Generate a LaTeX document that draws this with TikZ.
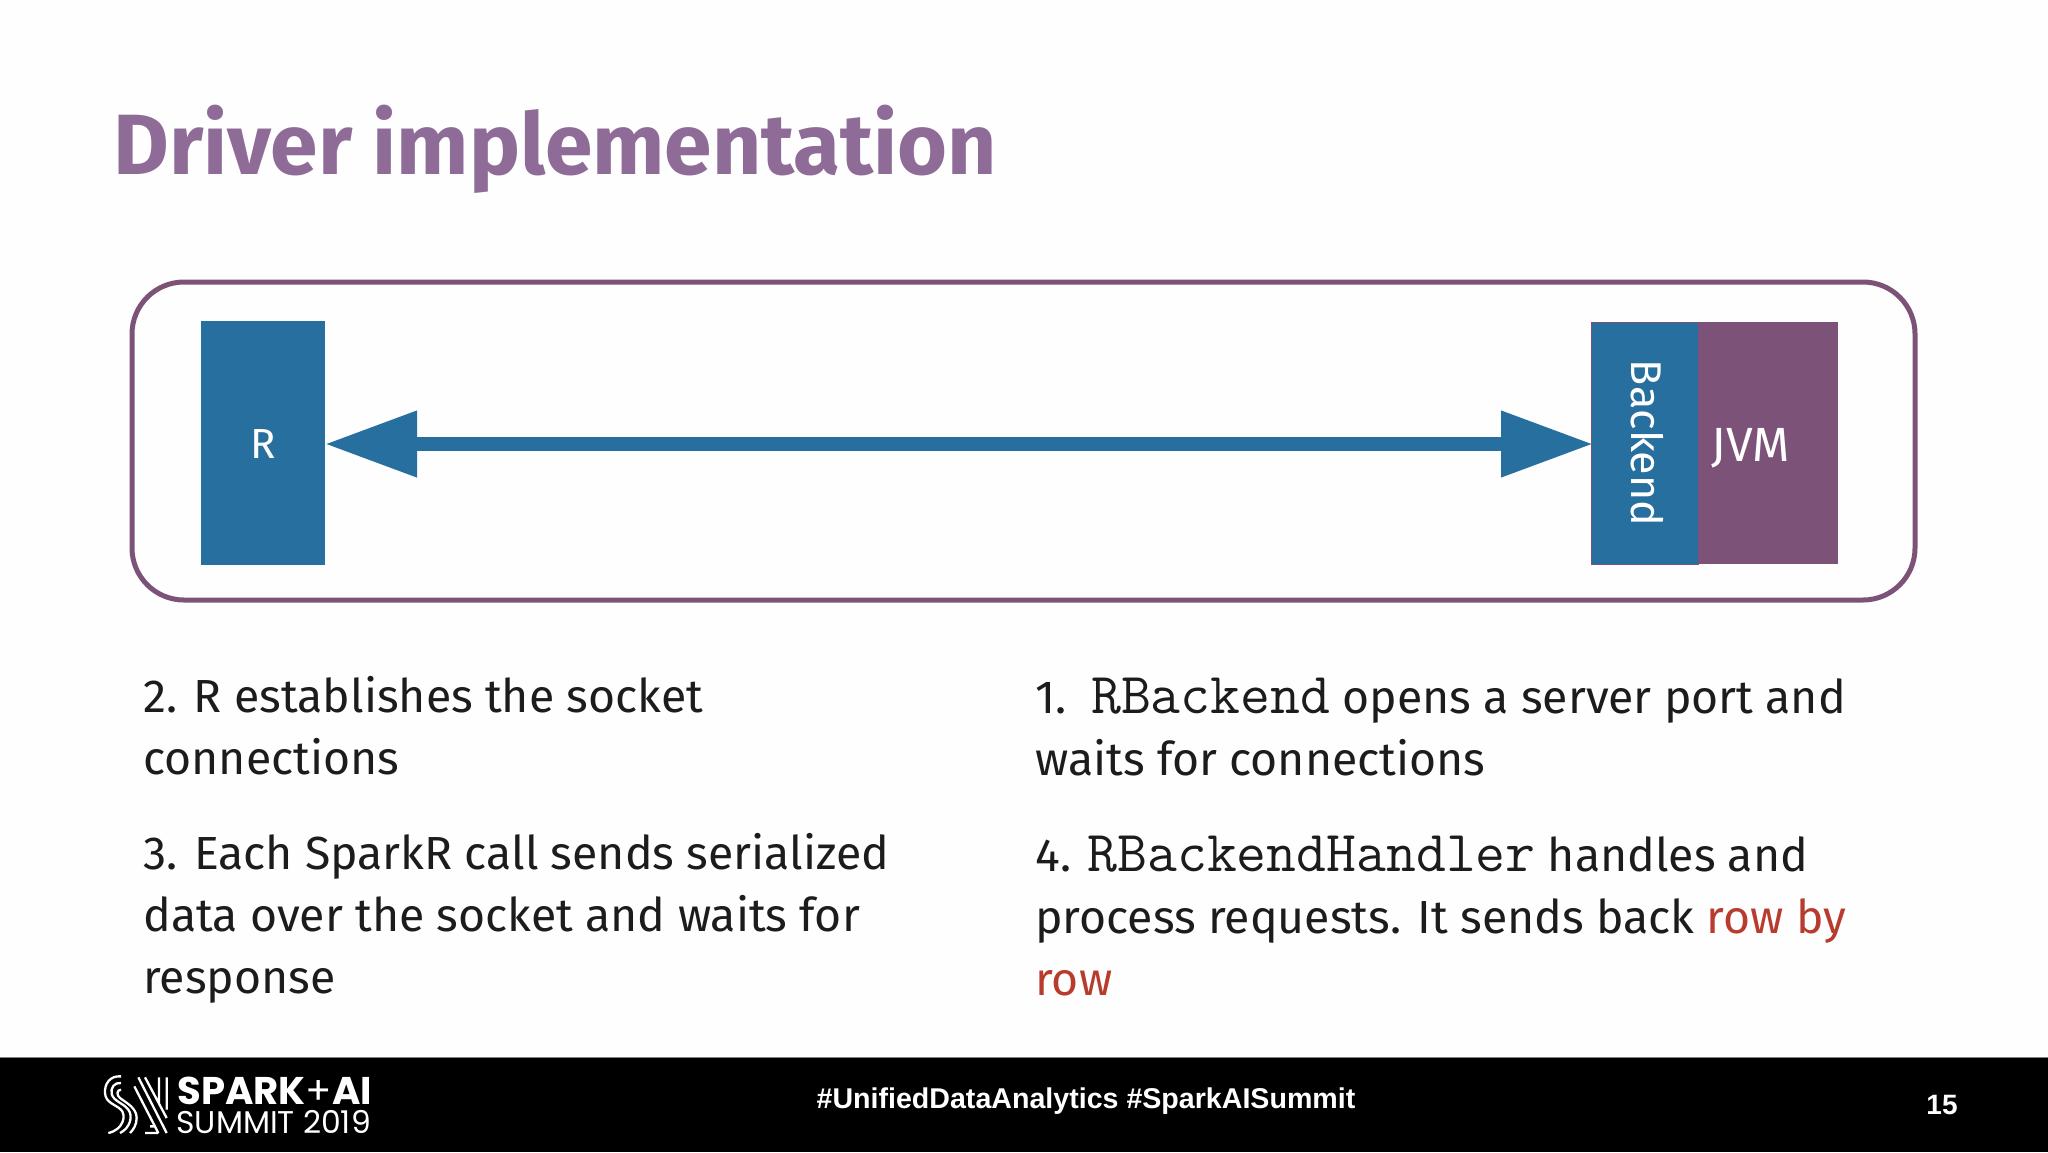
\documentclass[tikz,border=0pt]{standalone}
\usepackage{fontspec}
\setmainfont{Fira Sans}
\newfontfamily\logofont{Poppins}
\newfontfamily\barfont{Liberation Sans}
\usetikzlibrary{arrows.meta,positioning,calc}
\definecolor{slideblue}{HTML}{266F9F}
\definecolor{slidepurple}{HTML}{7C5279}
\definecolor{titlepurple}{HTML}{8F6B98}
\definecolor{slidered}{HTML}{B83C2E}
\definecolor{slidetext}{HTML}{1C1C1C}
\newcommand{\codeword}[1]{{\fontsize{29}{31}\selectfont\ttfamily #1}}
\tikzset{
  x=0.5pt, y=-0.5pt,
  blockbox/.style={rectangle, inner sep=0pt, outer sep=0pt, text=white, draw=slidepurple, line width=0.4pt},
  bodytext/.style={anchor=base west, inner sep=0pt, text=slidetext, font=\fontsize{23.2}{31}\selectfont, align=left},
  logoline/.style={draw=white, line width=1.15pt},
}
\begin{document}
\begin{tikzpicture}
    \useasboundingbox (0,0) rectangle (2048,1152);
    \fill[white!99.5!black] (0,0) rectangle (2048,1152);
    % title
    \node[anchor=base west, inner sep=0pt, text=titlepurple, font=\fontsize{42.8}{46}\selectfont\bfseries] (title) at (113,174) {Driver implementation};
    % frame
    \draw[slidepurple, line width=2.5pt, rounded corners=26pt] (132,282) rectangle (1915,600);
    % blocks
    \node[blockbox, fill=slideblue, draw=none, minimum width=62pt, minimum height=122pt, font=\fontsize{21}{25}\selectfont] (r) at (263,443) {\raisebox{-7.5pt}[0pt][0pt]{R}};
    \node[blockbox, fill=slideblue, minimum width=53.5pt, minimum height=121pt, font=\fontsize{21.5}{25}\selectfont] (backend) at (1644.5,443) {\hspace*{2.5pt}\rotatebox{-90}{Backend}};
    \node[blockbox, fill=slidepurple, draw=none, minimum width=70pt, minimum height=121pt, right=0pt of backend, font=\fontsize{24}{28}\selectfont] (jvm) {\hspace*{-17pt}\raisebox{-9.3pt}[0pt][0pt]{JVM}};
    \draw[slideblue, line width=7pt, shorten >=-1pt, {Triangle[length=46pt,width=31.5pt]}-{Triangle[length=46pt,width=31.5pt]}] ([yshift=-0.5pt]r.east) -- ([yshift=-0.5pt]backend.west);
    % text
    \node[bodytext] (left a) at (143,774) {2. R establishes the socket\\connections};
    \node[bodytext] (left b) at (143,993.5) {3. Each SparkR call sends serialized\\data over the socket and waits for\\response};
    \node[bodytext] (right a) at (1035,775) {1.~~\codeword{RBackend} opens a server port and\\waits for connections};
    \node[bodytext] (right b) at (1035,995) {4. \codeword{RBackendHandler} handles and\\process requests. It sends back \textcolor{slidered}{row by}\\\textcolor{slidered}{row}};
    % footer
    \fill[black] (0,1058) rectangle (2048,1152);
    \draw[gray, line width=0.5pt] (0,1057.5) -- (2048,1057.5);
    \node[anchor=base, inner sep=0pt, text=white, font=\fontsize{14.3}{16}\selectfont\barfont\bfseries] (tags) at (1086,1108) {\#UnifiedDataAnalytics \#SparkAISummit};
    \node[anchor=base, inner sep=0pt, text=white, font=\fontsize{14}{16}\selectfont\barfont\bfseries] (pagenum) at (1942,1114) {15};
    \node[anchor=base west, inner sep=0pt, text=white, font=\fontsize{19.3}{20}\selectfont\logofont\bfseries] (spark) at (177,1104) {SPARK{\mdseries+}AI};
    \node[anchor=base west, inner sep=0pt, text=white, font=\fontsize{15.7}{16}\selectfont\logofont] (summit) at (176,1133) {SUMMIT 2019};
    % logo
    \begin{scope}[shift={(95,1068)}, x=0.1667pt, y=-0.1667pt]
      \draw[logoline] (78,25) .. controls (45,22) and (28,48) .. (30,75) .. controls (32,105) and (60,108) .. (78,125) .. controls (95,142) and (85,185) .. (40,195);
      \draw[logoline] (78,45) .. controls (58,42) and (46,60) .. (50,78) .. controls (56,100) and (85,105) .. (100,125) .. controls (115,145) and (105,180) .. (75,195);
      \draw[logoline] (78,65) .. controls (65,65) and (64,82) .. (75,90) .. controls (95,105) and (125,120) .. (125,150) .. controls (125,170) and (115,185) .. (105,195);
      \draw[logoline] (130,28) -- (215,195) (150,28) -- (215,150) (192,28) -- (192,105) (215,28) -- (215,125);
      \draw[logoline] (118,55) -- (190,195) (150,195) -- (190,195) (165,175) -- (180,175);
    \end{scope}
\end{tikzpicture}
\end{document}
